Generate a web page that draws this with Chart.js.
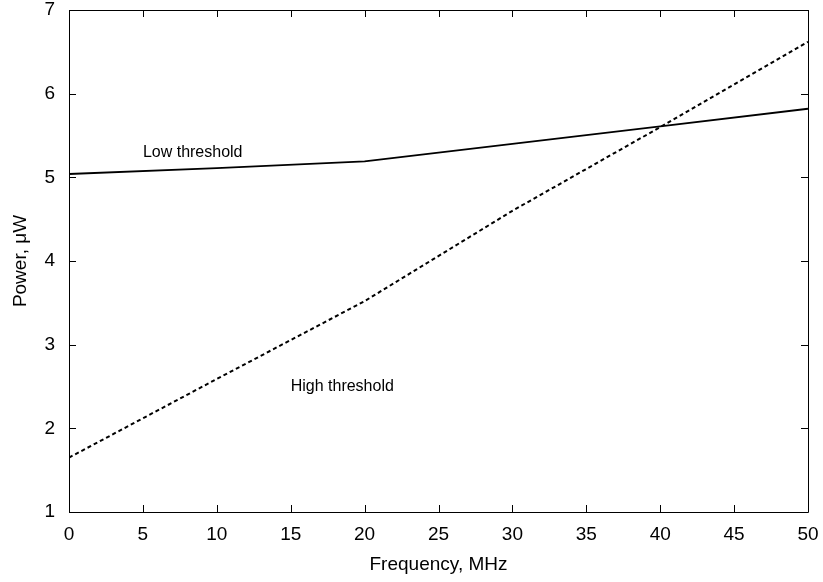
<!DOCTYPE html>
<html>
<head>
<meta charset="utf-8">
<script src="https://cdn.jsdelivr.net/npm/chart.js@4/dist/chart.umd.min.js"></script>
<style>
  html, body { margin: 0; padding: 0; background: #fff; }
  #wrap { width: 823px; height: 582px; }
</style>
</head>
<body>
<div id="wrap"><canvas id="powerChart" width="823" height="582"></canvas></div>
<script>
// data
var frequency = [0, 10, 20, 30, 40, 50];
var lowThreshold = [5.04, 5.11, 5.19, 5.40, 5.61, 5.82];
var highThreshold = [1.65, 2.59, 3.52, 4.60, 5.60, 6.62];

// in-plot labels (data coordinates)
var noteTexts = ["Low threshold", "High threshold"];
var noteX = [5, 15];
var noteY = [5.24, 2.45];

function toPoints(xs, ys) {
    return xs.map(function (x, i) { return { x: x, y: ys[i] }; });
}

// gnuplot-like frame with inward ticks on all four sides
var framePlugin = {
    id: 'frame',
    afterDatasetsDraw: function (chart) {
        var ctx = chart.ctx;
        var a = chart.chartArea;
        var xs = chart.scales.x, ys = chart.scales.y;
        var len = 7;
        ctx.save();
        ctx.strokeStyle = '#000';
        ctx.lineWidth = 1;
        ctx.beginPath();
        ctx.rect(Math.round(a.left) + 0.5, Math.round(a.top) + 0.5,
                 Math.round(a.right - a.left), Math.round(a.bottom - a.top));
        xs.ticks.forEach(function (t) {
            var px = Math.round(xs.getPixelForValue(t.value)) + 0.5;
            ctx.moveTo(px, a.bottom); ctx.lineTo(px, a.bottom - len);
            ctx.moveTo(px, a.top); ctx.lineTo(px, a.top + len);
        });
        ys.ticks.forEach(function (t) {
            var py = Math.round(ys.getPixelForValue(t.value)) + 0.5;
            ctx.moveTo(a.left, py); ctx.lineTo(a.left + len, py);
            ctx.moveTo(a.right, py); ctx.lineTo(a.right - len, py);
        });
        ctx.stroke();

        ctx.fillStyle = '#000';
        ctx.font = '16px "Liberation Sans", Arial, sans-serif';
        ctx.textAlign = 'left';
        ctx.textBaseline = 'alphabetic';
        noteTexts.forEach(function (txt, i) {
            ctx.fillText(txt, xs.getPixelForValue(noteX[i]), ys.getPixelForValue(noteY[i]));
        });
        ctx.restore();
    }
};

var fontFamily = '"Liberation Sans", Arial, sans-serif';

new Chart(document.getElementById('powerChart').getContext('2d'), {
    type: 'line',
    data: {
        datasets: [{
            label: 'Low threshold',
            data: toPoints(frequency, lowThreshold),
            borderColor: '#000',
            borderWidth: 1.8,
            pointRadius: 0,
            fill: false,
            tension: 0
        }, {
            label: 'High threshold',
            data: toPoints(frequency, highThreshold),
            borderColor: '#000',
            borderWidth: 2,
            borderDash: [4, 3],
            pointRadius: 0,
            fill: false,
            tension: 0
        }]
    },
    options: {
        responsive: false,
        animation: false,
        layout: { padding: { top: 10, right: 15, left: 0, bottom: 0 } },
        plugins: {
            legend: { display: false },
            tooltip: { enabled: false }
        },
        scales: {
            x: {
                type: 'linear',
                min: 0,
                max: 50,
                grid: { display: false, drawTicks: false },
                border: { display: false },
                ticks: {
                    stepSize: 5,
                    padding: 13,
                    color: '#000',
                    font: { family: fontFamily, size: 19, lineHeight: 1 }
                },
                title: {
                    display: true,
                    text: 'Frequency, MHz',
                    color: '#000',
                    font: { family: fontFamily, size: 19, lineHeight: 1.2 },
                    padding: { top: 0, bottom: 6 }
                },
                afterFit: function (scale) {
                    scale.height = 70;
                    scale.paddingLeft = 0;
                    scale.paddingRight = 0;
                }
            },
            y: {
                min: 1,
                max: 7,
                grid: { display: false, drawTicks: false },
                border: { display: false },
                ticks: {
                    stepSize: 1,
                    padding: 14,
                    color: '#000',
                    font: { family: fontFamily, size: 19, lineHeight: 1 }
                },
                title: {
                    display: true,
                    text: 'Power, μW',
                    color: '#000',
                    font: { family: fontFamily, size: 19, lineHeight: 1.2 },
                    padding: { top: 9, bottom: 0 }
                },
                afterFit: function (scale) {
                    scale.width = 69;
                    scale.paddingTop = 0;
                    scale.paddingBottom = 0;
                }
            }
        }
    },
    plugins: [framePlugin]
});
</script>
</body>
</html>
